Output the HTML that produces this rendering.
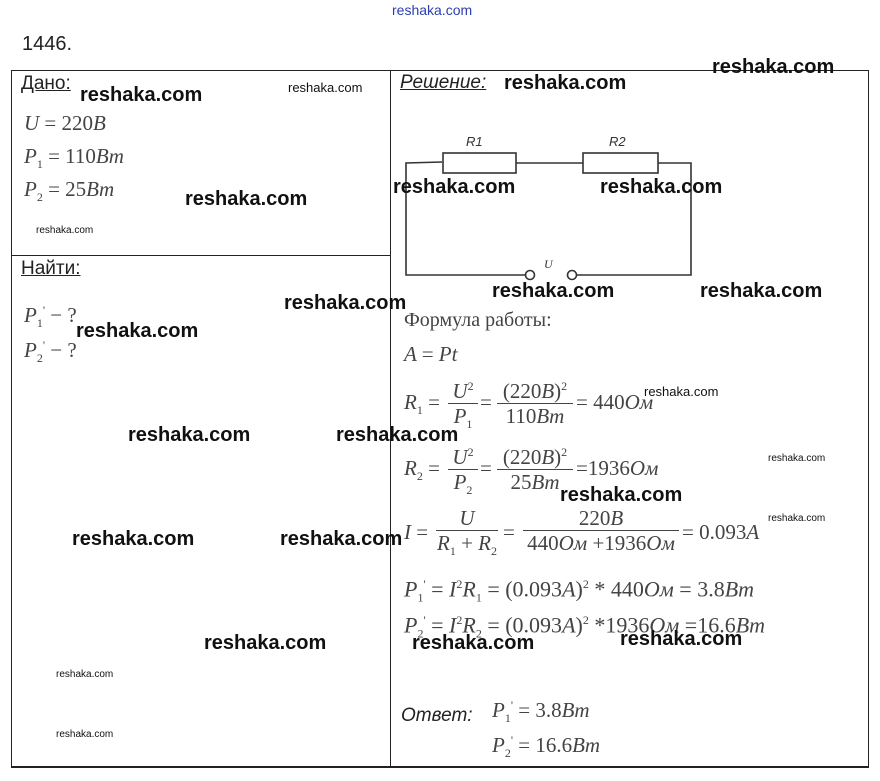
<!DOCTYPE html>
<html><head><meta charset="utf-8"><style>
body{margin:0;width:880px;height:781px;background:#fff;position:relative;overflow:hidden;font-family:"Liberation Serif",serif;}
.a{position:absolute;white-space:nowrap;}
.w{position:absolute;font:bold 20px "Liberation Sans",sans-serif;color:#111;white-space:nowrap;line-height:26px;}
.s{position:absolute;font:13px "Liberation Sans",sans-serif;color:#111;white-space:nowrap;line-height:16px;}
.t{position:absolute;font:10px "Liberation Sans",sans-serif;color:#111;white-space:nowrap;line-height:12px;}
.m{position:absolute;font:italic 21px "Liberation Serif",serif;color:#444;white-space:nowrap;line-height:24px;}
b{font-weight:normal;font-style:normal;}
.h{position:absolute;font:italic 19px "Liberation Sans",sans-serif;color:#222;text-decoration:underline;}
.hn{position:absolute;font:19px "Liberation Sans",sans-serif;color:#222;text-decoration:underline;}
.ln{position:absolute;background:#222;}
.fr{position:absolute;text-align:center;font:italic 21px "Liberation Serif",serif;color:#444;line-height:24px;}
.fr .bar{border-top:1px solid #444;}
sub,sup{font-size:12px;font-style:normal;}
</style></head><body>
<div class="a" style="left:392px;top:2px;font:14px 'Liberation Sans',sans-serif;color:#2a3fb0;">reshaka.com</div>
<div class="a" style="left:22px;top:33px;font:20px 'Liberation Sans',sans-serif;color:#222;">1446.</div>

<div class="ln" style="left:11px;top:70px;width:858px;height:1px"></div>
<div class="ln" style="left:11px;top:766px;width:858px;height:2px"></div>
<div class="ln" style="left:11px;top:70px;width:1px;height:697px"></div>
<div class="ln" style="left:868px;top:70px;width:1px;height:697px"></div>
<div class="ln" style="left:390px;top:70px;width:1px;height:697px"></div>
<div class="ln" style="left:11px;top:255px;width:380px;height:1px"></div>

<div class="hn" style="left:21px;top:73px;">Дано:</div>
<div class="m" style="left:24px;top:111px;">U <b>= 220</b>B</div>
<div class="m" style="left:24px;top:144px;">P<sub>1</sub> <b>= 110</b>Bm</div>
<div class="m" style="left:24px;top:177px;">P<sub>2</sub> <b>= 25</b>Bm</div>

<div class="hn" style="left:21px;top:258px;">Найти:</div>
<div class="m" style="left:24px;top:298px;">P<sub>1</sub><sup>'</sup> <b>− ?</b></div>
<div class="m" style="left:24px;top:333px;">P<sub>2</sub><sup>'</sup> <b>− ?</b></div>

<div class="h" style="left:400px;top:72px;">Решение:</div>

<svg class="a" style="left:380px;top:120px" width="330" height="170">
<g fill="none" stroke="#333" stroke-width="1.6">
<polyline points="62,42 26,43 26,155 146,155"/>
<polyline points="196,155 311,155 311,43 278,43"/>
<line x1="136" y1="43" x2="203" y2="43"/>
<rect x="63" y="33" width="73" height="20"/>
<rect x="203" y="33" width="75" height="20"/>
<circle cx="150" cy="155" r="4.5"/>
<circle cx="192" cy="155" r="4.5"/>
</g>
<text x="86" y="26" font-family="Liberation Sans" font-style="italic" font-size="13" fill="#333">R1</text>
<text x="229" y="26" font-family="Liberation Sans" font-style="italic" font-size="13" fill="#333">R2</text>
<text x="164" y="148" font-family="Liberation Serif" font-style="italic" font-size="12" fill="#333">U</text>
</svg>

<div class="a" style="left:404px;top:309px;font:20px 'Liberation Serif',serif;color:#444;">Формула работы:</div>
<div class="m" style="left:404px;top:342px;">A <b>=</b> Pt</div>

<div class="m" style="left:404px;top:390px;">R<sub>1</sub> <b>=</b></div>
<div class="fr" style="left:448px;top:374px;width:30px;"><div>U<sup>2</sup></div><div class="bar">P<sub>1</sub></div></div>
<div class="m" style="left:480px;top:390px;"><b>=</b></div>
<div class="fr" style="left:497px;top:374px;width:76px;"><div><b>(220</b>B<b>)</b><sup>2</sup></div><div class="bar"><b>110</b>Bm</div></div>
<div class="m" style="left:576px;top:390px;"><b>= 440</b>Ом</div>

<div class="m" style="left:404px;top:456px;">R<sub>2</sub> <b>=</b></div>
<div class="fr" style="left:448px;top:440px;width:30px;"><div>U<sup>2</sup></div><div class="bar">P<sub>2</sub></div></div>
<div class="m" style="left:480px;top:456px;"><b>=</b></div>
<div class="fr" style="left:497px;top:440px;width:76px;"><div><b>(220</b>B<b>)</b><sup>2</sup></div><div class="bar"><b>25</b>Bm</div></div>
<div class="m" style="left:576px;top:456px;"><b>=1936</b>Ом</div>

<div class="m" style="left:404px;top:520px;">I <b>=</b></div>
<div class="fr" style="left:436px;top:506px;width:62px;"><div>U</div><div class="bar">R<sub>1</sub> <b>+</b> R<sub>2</sub></div></div>
<div class="m" style="left:503px;top:520px;"><b>=</b></div>
<div class="fr" style="left:523px;top:506px;width:156px;"><div><b>220</b>B</div><div class="bar"><b>440</b>Ом <b>+1936</b>Ом</div></div>
<div class="m" style="left:682px;top:520px;"><b>= 0.093</b>A</div>

<div class="m" style="left:404px;top:572px;font-size:22px;">P<sub>1</sub><sup>'</sup> <b>=</b> I<sup>2</sup>R<sub>1</sub> <b>= (0.093</b>A<b>)</b><sup>2</sup> <b>* 440</b>Ом <b>= 3.8</b>Bm</div>
<div class="m" style="left:404px;top:608px;font-size:22px;">P<sub>2</sub><sup>'</sup> <b>=</b> I<sup>2</sup>R<sub>2</sub> <b>= (0.093</b>A<b>)</b><sup>2</sup> <b>*1936</b>Ом <b>=16.6</b>Bm</div>

<div class="a" style="left:401px;top:705px;font:italic 19px 'Liberation Sans',sans-serif;color:#222;">Ответ:</div>
<div class="m" style="left:492px;top:693px;">P<sub>1</sub><sup>'</sup> <b>= 3.8</b>Bm</div>
<div class="m" style="left:492px;top:728px;">P<sub>2</sub><sup>'</sup> <b>= 16.6</b>Bm</div>

<div class="w" style="left:80px;top:82px">reshaka.com</div>
<div class="w" style="left:185px;top:186px">reshaka.com</div>
<div class="w" style="left:284px;top:290px">reshaka.com</div>
<div class="w" style="left:76px;top:318px">reshaka.com</div>
<div class="w" style="left:128px;top:422px">reshaka.com</div>
<div class="w" style="left:336px;top:422px">reshaka.com</div>
<div class="w" style="left:72px;top:526px">reshaka.com</div>
<div class="w" style="left:280px;top:526px">reshaka.com</div>
<div class="w" style="left:204px;top:630px">reshaka.com</div>
<div class="w" style="left:412px;top:630px">reshaka.com</div>
<div class="w" style="left:504px;top:70px">reshaka.com</div>
<div class="w" style="left:712px;top:54px">reshaka.com</div>
<div class="w" style="left:393px;top:174px">reshaka.com</div>
<div class="w" style="left:600px;top:174px">reshaka.com</div>
<div class="w" style="left:492px;top:278px">reshaka.com</div>
<div class="w" style="left:700px;top:278px">reshaka.com</div>
<div class="w" style="left:560px;top:482px">reshaka.com</div>
<div class="w" style="left:620px;top:626px">reshaka.com</div>
<div class="s" style="left:288px;top:80px">reshaka.com</div>
<div class="s" style="left:644px;top:384px">reshaka.com</div>
<div class="t" style="left:36px;top:225px">reshaka.com</div>
<div class="t" style="left:768px;top:453px">reshaka.com</div>
<div class="t" style="left:768px;top:513px">reshaka.com</div>
<div class="t" style="left:56px;top:669px">reshaka.com</div>
<div class="t" style="left:56px;top:729px">reshaka.com</div>
</body></html>
